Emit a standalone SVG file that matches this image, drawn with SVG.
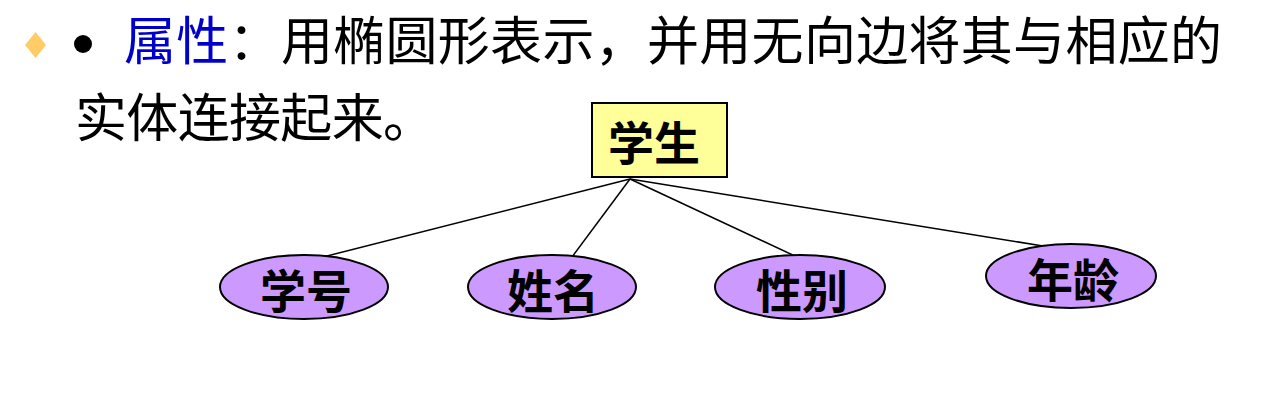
<svg xmlns="http://www.w3.org/2000/svg" width="1270" height="400" viewBox="0 0 1270 400">
<style>
.t{font-family:"Noto Sans CJK SC","Noto Sans",sans-serif;font-size:52px;fill:#000}
.lbl{font-family:"Noto Sans CJK SC","Noto Sans",sans-serif;font-size:46px;font-weight:700;fill:#000;text-anchor:middle}
.attr{fill:#cc99ff;stroke:#000;stroke-width:2}
.ent{fill:#ffff99;stroke:#000;stroke-width:2}
.conn line{stroke:#000;stroke-width:1.5}
</style>
<rect width="1270" height="400" fill="#fff"/>
<g id="title">
<polygon points="35.5,32 46,45 35.5,58 25,45" fill="#ffcc66"/>
<circle cx="83" cy="44" r="9" fill="#000"/>
<text class="t" x="124" y="60" textLength="1098" lengthAdjust="spacing"><tspan fill="#0000cc">属性</tspan>：用椭圆形表示，并用无向边将其与相应的</text>
<text class="t" x="75" y="137" textLength="360" lengthAdjust="spacing">实体连接起来。</text>
</g>
<g id="connectors" class="conn">
<line x1="630" y1="179" x2="323" y2="257"/>
<line x1="630" y1="179" x2="572" y2="257"/>
<line x1="630" y1="179" x2="797" y2="257"/>
<line x1="630" y1="179" x2="1043" y2="246"/>
</g>
<g id="student">
<rect class="ent" x="592" y="103" width="135" height="74"/>
<text class="lbl" x="654" y="160">学生</text>
</g>
<g id="attr-xuehao">
<ellipse class="attr" cx="304" cy="287" rx="84" ry="32"/>
<text class="lbl" x="306" y="308">学号</text>
</g>
<g id="attr-xingming">
<ellipse class="attr" cx="552" cy="287" rx="84" ry="32"/>
<text class="lbl" x="553" y="308">姓名</text>
</g>
<g id="attr-xingbie">
<ellipse class="attr" cx="800" cy="287" rx="85" ry="32"/>
<text class="lbl" x="802" y="308">性别</text>
</g>
<g id="attr-nianling">
<ellipse class="attr" cx="1071" cy="276" rx="85" ry="32"/>
<text class="lbl" x="1073" y="297">年龄</text>
</g>
</svg>
